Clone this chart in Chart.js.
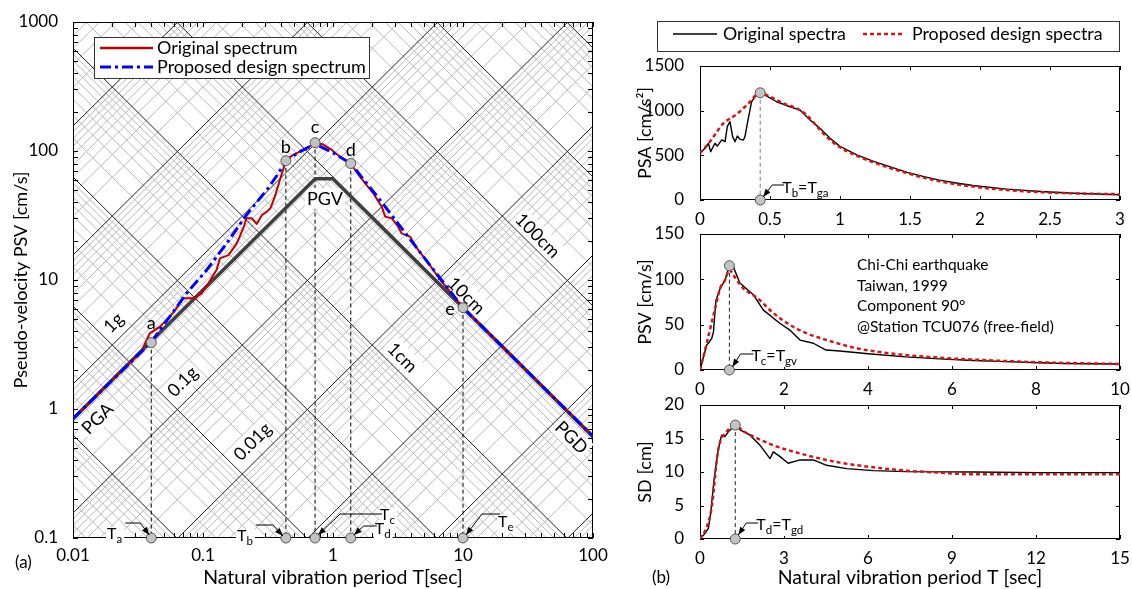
<!DOCTYPE html>
<html>
<head>
<meta charset="utf-8">
<title>Design spectra</title>
<script src="https://cdn.jsdelivr.net/npm/chart.js@4.4.1/dist/chart.umd.min.js"></script>
<style>
  html, body { margin: 0; padding: 0; background: #fff; }
  #page { position: relative; width: 1132px; height: 589px; overflow: hidden; background: #fff; }
  #page canvas { position: absolute; left: 0; top: 0; }
</style>
</head>
<body>
<div id="page">
  <canvas id="triChart" width="1132" height="589"></canvas>
  <canvas id="psaChart" width="1132" height="589"></canvas>
  <canvas id="psvChart" width="1132" height="589"></canvas>
  <canvas id="sdChart" width="1132" height="589"></canvas>
</div>
<script>
/*---------------------------------------------------------------*/
/*----------------------------- data ----------------------------*/
/*---------------------------------------------------------------*/

// (a) tripartite plot : period T [sec] vs PSV [cm/s]
const triTicksT   = [0.01, 0.1, 1, 10, 100];
const triTicksPSV = [0.1, 1, 10, 100, 1000];

const triOrigT   = [0.01, 0.02, 0.03, 0.0335, 0.0389, 0.0467, 0.0591, 0.0705, 0.0842, 0.0977, 0.11, 0.127, 0.135, 0.157, 0.182, 0.204, 0.216, 0.237, 0.259, 0.284, 0.31, 0.33, 0.357, 0.39, 0.42, 0.434, 0.49, 0.59, 0.685, 0.728, 0.83, 0.98, 1.13, 1.37, 1.61, 2.04, 2.37, 2.52, 2.83, 3.17, 3.37, 3.91, 4.52, 5.42, 6.69, 7.94, 10, 20, 50, 100];
const triOrigPSV = [0.84, 1.68, 2.5, 2.78, 3.86, 4.35, 5.58, 7.21, 7.21, 7.89, 9.42, 11.96, 14.7, 15.6, 19.2, 25.2, 30.1, 30.1, 27.2, 31.9, 33.9, 36, 44.3, 59.6, 75.5, 84, 93, 102, 111, 116, 113, 102, 90.4, 80, 63.2, 47, 37, 31, 30.1, 25.9, 23, 21.7, 17.1, 13.5, 10, 8.11, 6.1, 3.08, 1.23, 0.62];

const triDesT   = [0.01, 0.04, 0.0749, 0.107, 0.152, 0.216, 0.31, 0.38, 0.434, 0.557, 0.728, 1.0, 1.37, 2.3, 4.95, 10, 100];
const triDesPSV = [0.84, 3.3, 7.9, 12, 19.2, 32, 50, 67, 84, 99, 113, 97, 80, 41.7, 15.2, 6.1, 0.615];

// PGA / PGV / PGD envelope of the ground motion
const groundT   = [0.01, 0.73, 1.0, 100];
const groundPSV = [0.84, 61, 61, 0.61];

// corner periods a..e
const cornerNames = ['a', 'b', 'c', 'd', 'e'];
const cornerT     = [0.04, 0.434, 0.728, 1.37, 10];
const cornerPSV   = [3.27, 84, 116, 80, 6.1];

// (b) linear panels
const psaTicksX = [0, 0.5, 1, 1.5, 2, 2.5, 3];
const psaTicksY = [0, 500, 1000, 1500];
const psaOrigT = [0, 0.036, 0.06, 0.076, 0.107, 0.124, 0.155, 0.179, 0.195, 0.214, 0.233, 0.25, 0.267, 0.286, 0.31, 0.321, 0.345, 0.369, 0.393, 0.43, 0.464, 0.548, 0.643, 0.714, 0.786, 0.857, 0.929, 1.0, 1.12, 1.24, 1.36, 1.48, 1.6, 1.71, 1.83, 1.95, 2.19, 2.43, 2.67, 3.0];
const psaOrig  = [523, 578, 635, 541, 635, 604, 672, 653, 821, 877, 709, 653, 716, 679, 672, 709, 914, 1100, 1156, 1200, 1175, 1100, 1044, 1007, 896, 802, 690, 600, 505, 432, 370, 310, 262, 222, 190, 162, 122, 95, 76, 58];
const psaDesT  = [0, 0.071, 0.167, 0.262, 0.345, 0.43, 0.5, 0.595, 0.69, 0.762, 0.857, 0.929, 1.0, 1.05, 1.24, 1.48, 1.71, 1.95, 2.19, 2.43, 2.67, 3.0];
const psaDes   = [523, 653, 858, 960, 1080, 1200, 1156, 1082, 1026, 951, 784, 672, 590, 545, 420, 300, 210, 150, 112, 88, 74, 65];
const psaPeak  = [0.43, 1200];

const psvTicksX = [0, 2, 4, 6, 8, 10];
const psvTicksY = [0, 50, 100, 150];
const psvOrigT = [0, 0.16, 0.2, 0.28, 0.32, 0.38, 0.48, 0.6, 0.7, 0.79, 0.95, 1.27, 1.51, 1.9, 2.14, 2.38, 2.7, 3.0, 3.33, 4.0, 4.9, 5.7, 6.5, 7.3, 8.1, 8.7, 10];
const psvOrig  = [0, 27.6, 29.5, 35, 42, 77, 90, 99.5, 115, 114, 96, 83, 66, 51.6, 44, 33, 29.5, 22, 21, 18, 14.5, 12.3, 10.5, 9.2, 8.0, 7.2, 6.6];
const psvDesT  = [0, 0.16, 0.36, 0.48, 0.6, 0.7, 0.79, 1.03, 1.35, 1.75, 2.14, 2.54, 3.02, 3.73, 4.5, 5.7, 6.5, 8.1, 10];
const psvDes   = [0, 29.5, 68, 90, 99.5, 110.6, 105, 90, 80, 62.7, 49.8, 40.5, 33, 24, 18.5, 13.5, 11.5, 8.5, 6.6];
const psvPeak  = [0.7, 115];

const sdTicksX = [0, 3, 6, 9, 12, 15];
const sdTicksY = [0, 5, 10, 15, 20];
const sdOrigT = [0, 0.18, 0.3, 0.38, 0.5, 0.65, 0.77, 0.89, 1.01, 1.26, 1.43, 1.79, 2.14, 2.5, 2.62, 2.86, 3.15, 3.57, 4.05, 4.52, 5.24, 6.19, 7.38, 9.76, 12.1, 15];
const sdOrig  = [0, 0.85, 1.6, 3.8, 8.8, 13.3, 15.5, 15.3, 16, 17, 16.3, 15.5, 14, 12, 13, 12.3, 11.3, 11.8, 11.8, 11, 10.5, 10.2, 10.05, 10, 9.9, 9.9];
const sdDesT  = [0, 0.24, 0.42, 0.65, 0.95, 1.26, 1.67, 2.62, 3.81, 5, 6.19, 7.38, 8.57, 9.76, 12.1, 15];
const sdDes   = [0, 1.8, 4.8, 13.3, 16, 16.8, 15.8, 14, 12.5, 11.4, 10.7, 10.2, 9.9, 9.65, 9.65, 9.65];
const sdPeak  = [1.26, 17];

/*---------------------------------------------------------------*/
/*---------------------------- helpers --------------------------*/
/*---------------------------------------------------------------*/
const FONT = "Lato, 'Open Sans', sans-serif";
const G = 981;               // cm/s^2
const TWO_PI = 2 * Math.PI;

Chart.defaults.font.family = FONT;
Chart.defaults.color = '#000';

function font(size) { return size + 'px ' + FONT; }
function zip(xs, ys) { return xs.map((x, i) => ({ x: x, y: ys[i] })); }

// text with subscripts: parts = [[text, isSub], ...]
function richWidth(ctx, parts, size) {
  let w = 0;
  parts.forEach(p => { ctx.font = font(p[1] ? size * 0.72 : size); w += ctx.measureText(p[0]).width; });
  return w;
}
function drawRich(ctx, x, y, parts, size) {
  ctx.textAlign = 'left';
  ctx.textBaseline = 'alphabetic';
  parts.forEach(p => {
    ctx.font = font(p[1] ? size * 0.72 : size);
    ctx.fillText(p[0], x, p[1] ? y + size * 0.22 : y);
    x += ctx.measureText(p[0]).width;
  });
}

// leader from a label to a circle sitting on the period axis
function leaderGeom(ctx, cx, cy, L, size) {
  const g = {
    tx: cx + L.tip[0], ty: cy + L.tip[1],
    kx: cx + L.knee[0], ky: cy + L.knee[1],
    w: richWidth(ctx, L.parts, size)
  };
  g.sx = g.kx + L.arm;
  g.left = L.arm < 0 ? g.sx - 3 - g.w : g.sx - 2;
  g.base = g.ky + L.base;
  return g;
}
function leaderBox(ctx, g, size) {
  ctx.fillStyle = '#fff';
  ctx.fillRect(g.left - 1, g.base - size * 0.75, g.w + 3, size * 0.75 + 6);
}
function leaderLine(ctx, g) {
  ctx.strokeStyle = '#000';
  ctx.lineWidth = 1;
  ctx.beginPath();
  ctx.moveTo(g.sx, g.ky);
  ctx.lineTo(g.kx, g.ky);
  ctx.lineTo(g.tx, g.ty);
  ctx.stroke();
  const ang = Math.atan2(g.ty - g.ky, g.tx - g.kx);
  const c = Math.cos(ang), s = Math.sin(ang);
  ctx.fillStyle = '#000';
  ctx.beginPath();
  ctx.moveTo(g.tx, g.ty);
  ctx.lineTo(g.tx - 8 * c + 3 * s, g.ty - 8 * s - 3 * c);
  ctx.lineTo(g.tx - 8 * c - 3 * s, g.ty - 8 * s + 3 * c);
  ctx.closePath();
  ctx.fill();
}
function drawLeaders(ctx, items, size) {
  // items: [{cx, cy, L}]
  ctx.save();
  const gs = items.map(it => leaderGeom(ctx, it.cx, it.cy, it.L, size));
  gs.forEach(g => leaderBox(ctx, g, size));
  gs.forEach(g => leaderLine(ctx, g));
  ctx.fillStyle = '#000';
  gs.forEach((g, i) => drawRich(ctx, g.left, g.base, items[i].L.parts, size));
  ctx.restore();
}

// box round the plot with inward ticks on all four sides
function drawFrame(chart, xTicks, yTicks, len) {
  const { ctx, chartArea: a, scales: { x, y } } = chart;
  ctx.save();
  ctx.strokeStyle = '#000';
  ctx.lineWidth = 1;
  ctx.beginPath();
  xTicks.forEach(v => {
    const px = Math.round(x.getPixelForValue(v)) + 0.5;
    ctx.moveTo(px, a.bottom); ctx.lineTo(px, a.bottom - len);
    ctx.moveTo(px, a.top); ctx.lineTo(px, a.top + len);
  });
  yTicks.forEach(v => {
    const py = Math.round(y.getPixelForValue(v)) + 0.5;
    ctx.moveTo(a.left, py); ctx.lineTo(a.left + len, py);
    ctx.moveTo(a.right, py); ctx.lineTo(a.right - len, py);
  });
  ctx.stroke();
  ctx.strokeRect(a.left + 0.5, a.top + 0.5, a.right - a.left - 1, a.bottom - a.top - 1);
  ctx.restore();
}

function logSteps(from, to) {
  const out = [];
  for (let e = from; e < to; e++) for (let k = 1; k <= 9; k++) out.push(k * Math.pow(10, e));
  out.push(Math.pow(10, to));
  return out;
}

/*---------------------------------------------------------------*/
/*------------------------ (a) tripartite -----------------------*/
/*---------------------------------------------------------------*/

// diagonal grid: constant pseudo-acceleration [g] and constant deformation [cm]
const gridMajor = [], gridMinor = [];
for (let e = -6; e <= 4; e++) {
  for (let k = 1; k <= 9; k++) {
    const s = k * Math.pow(10, e);
    const bucket = k === 1 ? gridMajor : gridMinor;
    bucket.push({ x: 0.01, y: s * G * 0.01 / TWO_PI }, { x: 100, y: s * G * 100 / TWO_PI }, { x: 100, y: null });
    bucket.push({ x: 0.01, y: TWO_PI * s / 0.01 }, { x: 100, y: TWO_PI * s / 100 }, { x: 100, y: null });
  }
}

// dashed drops from the corners to the period axis
const guides = [];
cornerT.forEach((t, i) => guides.push({ x: t, y: cornerPSV[i] }, { x: t, y: 0.1 }, { x: t, y: null }));

const cornerMarks = zip(cornerT, cornerPSV).concat(cornerT.map(t => ({ x: t, y: 0.1 })));

const triTags = [
  { text: '1g',    T: 0.0203, v: 4.72,  rot: -45 },
  { text: '0.1g',  T: 0.069,  v: 1.65,  rot: -45 },
  { text: '0.01g', T: 0.238,  v: 0.565, rot: -45 },
  { text: 'PGA',   T: 0.0153, v: 0.851, rot: -45 },
  { text: '100cm', T: 37.8,   v: 22.3,  rot: 45 },
  { text: '10cm',  T: 10.7,   v: 7.65,  rot: 45 },
  { text: '1cm',   T: 3.45,   v: 2.53,  rot: 45 },
  { text: 'PGD',   T: 68.9,   v: 0.607, rot: 45 },
  { text: 'PGV',   T: 0.867,  v: 43.3,  rot: 0 }
];
const cornerLabelOffset = [[0, -19], [0, -14], [0, -15], [0, -13], [-13, 1]];
const triLeaders = [
  { i: 0, tip: [-2, -3], knee: [-11, -15], arm: -15, base: 16, parts: [['T', 0], ['a', 1]] },
  { i: 1, tip: [-3, -2], knee: [-13, -13], arm: -17, base: 16, parts: [['T', 0], ['b', 1]] },
  { i: 2, tip: [3, -3],  knee: [25, -24],  arm: 42,  base: 6,  parts: [['T', 0], ['c', 1]] },
  { i: 3, tip: [3, -3],  knee: [13, -12],  arm: 13,  base: 8,  parts: [['T', 0], ['d', 1]] },
  { i: 4, tip: [3, -3],  knee: [19, -24],  arm: 18,  base: 13, parts: [['T', 0], ['e', 1]] }
];

function drawTriTags(chart) {
  const { ctx, scales: { x, y } } = chart;
  ctx.save();
  ctx.font = font(18);
  ctx.textAlign = 'center';
  ctx.textBaseline = 'middle';
  triTags.forEach(t => {
    const w = ctx.measureText(t.text).width;
    ctx.save();
    ctx.translate(x.getPixelForValue(t.T), y.getPixelForValue(t.v));
    ctx.rotate(t.rot * Math.PI / 180);
    ctx.fillStyle = '#fff';
    ctx.fillRect(-w / 2 - 2, -10, w + 4, 21);
    ctx.fillStyle = '#000';
    ctx.fillText(t.text, 0, 1);
    ctx.restore();
  });
  ctx.restore();
}

function drawTriNotes(chart) {
  const { ctx, chartArea: a, scales: { x, y } } = chart;
  ctx.save();
  // corner letters
  ctx.font = font(18);
  ctx.fillStyle = '#000';
  ctx.textAlign = 'center';
  ctx.textBaseline = 'middle';
  cornerNames.forEach((n, i) => {
    ctx.fillText(n, x.getPixelForValue(cornerT[i]) + cornerLabelOffset[i][0],
                    y.getPixelForValue(cornerPSV[i]) + cornerLabelOffset[i][1]);
  });
  // period labels on the axis
  drawLeaders(ctx, triLeaders.map(L => ({ cx: x.getPixelForValue(cornerT[L.i]), cy: a.bottom, L: L })), 16);

  // legend
  ctx.fillStyle = '#fff';
  ctx.fillRect(94, 37, 275, 41);
  ctx.strokeStyle = '#333';
  ctx.lineWidth = 1;
  ctx.strokeRect(94.5, 37.5, 275, 41);
  ctx.lineWidth = 2.5;
  ctx.strokeStyle = '#c00000';
  ctx.beginPath(); ctx.moveTo(100, 48); ctx.lineTo(153, 48); ctx.stroke();
  ctx.lineWidth = 3;
  ctx.strokeStyle = '#0000ff';
  ctx.setLineDash([11, 4, 3, 4]);
  ctx.beginPath(); ctx.moveTo(100, 67); ctx.lineTo(153, 67); ctx.stroke();
  ctx.setLineDash([]);
  ctx.fillStyle = '#000';
  ctx.font = font(18);
  ctx.textAlign = 'left';
  ctx.textBaseline = 'middle';
  ctx.fillText('Original spectrum', 157, 48);
  ctx.fillText('Proposed design spectrum', 157, 67);

  ctx.font = font(17);
  ctx.fillText('(a)', 15, 563);
  ctx.restore();
}

const triDecor = {
  id: 'triDecor',
  afterDatasetDraw(chart, args) {
    const hook = chart.data.datasets[args.index].hook;
    if (hook === 'frame') drawFrame(chart, logSteps(-2, 2), logSteps(-1, 3), 5);
    if (hook === 'tags') drawTriTags(chart);
  },
  afterDatasetsDraw(chart) { drawTriNotes(chart); }
};

new Chart(document.getElementById('triChart'), {
  type: 'line',
  data: {
    datasets: [
      { data: cornerMarks, showLine: false, pointRadius: 5, pointBackgroundColor: '#c3c3c3',
        pointBorderColor: '#555', pointBorderWidth: 1, clip: false, order: 0 },
      { data: zip(triDesT, triDesPSV), borderColor: '#0000ff', borderWidth: 3,
        borderDash: [11, 4, 3, 4], order: 1 },
      { data: zip(triOrigT, triOrigPSV), borderColor: '#c00000', borderWidth: 2,
        borderJoinStyle: 'round', order: 2 },
      { data: zip(groundT, groundPSV), borderColor: '#404040', borderWidth: 3.5, order: 3 },
      { data: guides, borderColor: '#000', borderWidth: 1, borderDash: [4, 3], order: 5, hook: 'tags' },
      { data: gridMajor, borderColor: '#1e1e1e', borderWidth: 1, clip: 0, order: 9, hook: 'frame' },
      { data: gridMinor, borderColor: '#b8b8b8', borderWidth: 1, clip: 0, order: 10 }
    ]
  },
  options: {
    responsive: false,
    animation: false,
    devicePixelRatio: 1,
    events: [],
    layout: { autoPadding: false, padding: { left: 0, top: 22, right: 539, bottom: 0 } },
    plugins: { legend: { display: false }, tooltip: { enabled: false } },
    elements: { point: { radius: 0 }, line: { tension: 0 } },
    scales: {
      x: {
        type: 'logarithmic', min: 0.01, max: 100,
        afterBuildTicks: s => { s.ticks = triTicksT.map(v => ({ value: v })); },
        afterFit: s => { s.height = 51; },
        grid: { display: false }, border: { display: false },
        ticks: { font: { size: 17 }, padding: -1, maxRotation: 0, autoSkip: false, callback: v => String(v) },
        title: { display: true, text: 'Natural vibration period T[sec]', font: { size: 19.5 }, padding: { top: 0, bottom: 0 } }
      },
      y: {
        type: 'logarithmic', min: 0.1, max: 1000,
        afterBuildTicks: s => { s.ticks = triTicksPSV.map(v => ({ value: v })); },
        afterFit: s => { s.width = 73; },
        grid: { display: false }, border: { display: false },
        ticks: { font: { size: 17 }, padding: 7, autoSkip: false, callback: v => String(v) },
        title: { display: true, text: 'Pseudo-velocity PSV [cm/s]', font: { size: 18 }, padding: { top: 10, bottom: 0 } }
      }
    }
  },
  plugins: [triDecor]
});

/*---------------------------------------------------------------*/
/*------------------------ (b) PSA/PSV/SD -----------------------*/
/*---------------------------------------------------------------*/
function spectrumChart(id, p) {
  const peak = [{ x: p.peak[0], y: p.peak[1] }, { x: p.peak[0], y: 0 }];
  return new Chart(document.getElementById(id), {
    type: 'line',
    data: {
      datasets: [
        { data: peak, showLine: false, pointRadius: 5, pointBackgroundColor: '#c3c3c3',
          pointBorderColor: '#555', pointBorderWidth: 1, clip: false, order: 0 },
        { data: zip(p.desT, p.des), borderColor: '#d51515', borderWidth: 2.5, borderDash: [4, 3],
          cubicInterpolationMode: 'monotone', order: 1 },
        { data: zip(p.origT, p.orig), borderColor: '#000', borderWidth: 1.4, borderJoinStyle: 'round', order: 2 },
        { data: peak, borderColor: p.guide, borderWidth: 1, borderDash: [4, 3], order: 3 }
      ]
    },
    options: {
      responsive: false,
      animation: false,
      devicePixelRatio: 1,
      events: [],
      layout: { autoPadding: false, padding: { left: 620, right: 12, top: p.top, bottom: 589 - p.bottom - p.xh } },
      plugins: { legend: { display: false }, tooltip: { enabled: false } },
      elements: { point: { radius: 0 }, line: { tension: 0 } },
      scales: {
        x: {
          type: 'linear', min: 0, max: p.ticksX[p.ticksX.length - 1],
          afterBuildTicks: s => { s.ticks = p.ticksX.map(v => ({ value: v })); },
          afterFit: s => { s.height = p.xh; },
          grid: { display: false }, border: { display: false },
          ticks: { font: { size: 17 }, padding: 1, maxRotation: 0, autoSkip: false, callback: v => String(v) },
          title: p.xTitle
            ? { display: true, text: p.xTitle, font: { size: 19.5 }, padding: { top: 0, bottom: 0 } }
            : { display: false }
        },
        y: {
          type: 'linear', min: 0, max: p.ticksY[p.ticksY.length - 1],
          afterBuildTicks: s => { s.ticks = p.ticksY.map(v => ({ value: v })); },
          afterFit: s => { s.width = 80; },
          grid: { display: false }, border: { display: false },
          ticks: { font: { size: 17 }, padding: 8, autoSkip: false, callback: v => String(v) },
          title: { display: true, text: p.yTitle, font: { size: 18 }, padding: { top: 14, bottom: 0 } }
        }
      }
    },
    plugins: [{
      id: 'panelDecor',
      beforeDatasetsDraw(chart) { drawFrame(chart, p.ticksX, p.ticksY, 4); },
      afterDatasetsDraw(chart) {
        const { ctx, chartArea: a, scales: { x } } = chart;
        drawLeaders(ctx, [{ cx: x.getPixelForValue(p.peak[0]), cy: a.bottom, L: p.leader }], 16);
        if (p.extra) p.extra(ctx);
      }
    }]
  });
}

spectrumChart('psaChart', {
  top: 66, bottom: 200, xh: 30,
  ticksX: psaTicksX, ticksY: psaTicksY,
  origT: psaOrigT, orig: psaOrig, desT: psaDesT, des: psaDes, peak: psaPeak,
  guide: '#7a7a7a', yTitle: 'PSA [cm/s²]',
  leader: { tip: [3, -3], knee: [12, -15], arm: 12, base: 8, parts: [['T', 0], ['b', 1], ['=T', 0], ['ga', 1]] },
  extra(ctx) {
    // shared legend above the panels
    ctx.save();
    ctx.strokeStyle = '#333';
    ctx.lineWidth = 1;
    ctx.strokeRect(657.5, 21.5, 462, 30);
    ctx.strokeStyle = '#000';
    ctx.lineWidth = 1.5;
    ctx.beginPath(); ctx.moveTo(673, 34); ctx.lineTo(717, 34); ctx.stroke();
    ctx.strokeStyle = '#d51515';
    ctx.lineWidth = 2.5;
    ctx.setLineDash([4, 3]);
    ctx.beginPath(); ctx.moveTo(863, 34); ctx.lineTo(905, 34); ctx.stroke();
    ctx.setLineDash([]);
    ctx.fillStyle = '#000';
    ctx.font = font(17.8);
    ctx.textAlign = 'left';
    ctx.textBaseline = 'middle';
    ctx.fillText('Original spectra', 723, 34);
    ctx.fillText('Proposed design spectra', 912, 34);
    ctx.restore();
  }
});

spectrumChart('psvChart', {
  top: 234, bottom: 370, xh: 30,
  ticksX: psvTicksX, ticksY: psvTicksY,
  origT: psvOrigT, orig: psvOrig, desT: psvDesT, des: psvDes, peak: psvPeak,
  guide: '#222', yTitle: 'PSV [cm/s]',
  leader: { tip: [3, -3], knee: [11, -16], arm: 13, base: 7, parts: [['T', 0], ['c', 1], ['=T', 0], ['gv', 1]] },
  extra(ctx) {
    ctx.save();
    ctx.fillStyle = '#000';
    ctx.font = font(15.5);
    ctx.textAlign = 'left';
    ctx.textBaseline = 'middle';
    ['Chi-Chi earthquake', 'Taiwan, 1999', 'Component 90°', '@Station TCU076 (free-field)']
      .forEach((s, i) => ctx.fillText(s, 857, 265 + i * 20.7));
    ctx.restore();
  }
});

spectrumChart('sdChart', {
  top: 405, bottom: 539, xh: 50,
  ticksX: sdTicksX, ticksY: sdTicksY,
  origT: sdOrigT, orig: sdOrig, desT: sdDesT, des: sdDes, peak: sdPeak,
  guide: '#222', yTitle: 'SD [cm]', xTitle: 'Natural vibration period T [sec]',
  leader: { tip: [3, -4], knee: [11, -16], arm: 12, base: 7, parts: [['T', 0], ['d', 1], ['=T', 0], ['gd', 1]] },
  extra(ctx) {
    ctx.save();
    ctx.fillStyle = '#000';
    ctx.font = font(17);
    ctx.textAlign = 'left';
    ctx.textBaseline = 'middle';
    ctx.fillText('(b)', 652, 578);
    ctx.restore();
  }
});
</script>
</body>
</html>
